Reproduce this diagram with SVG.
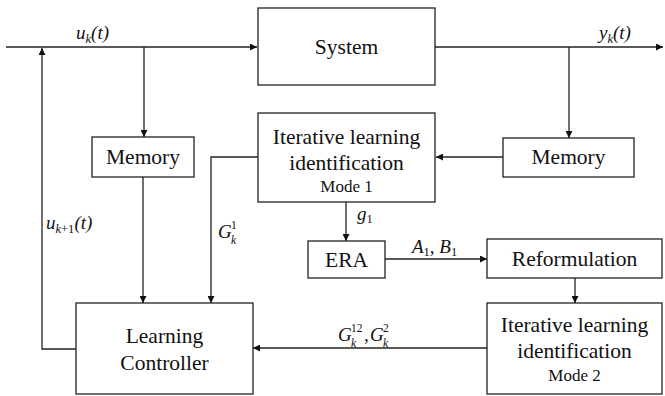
<svg xmlns="http://www.w3.org/2000/svg" width="665" height="396" viewBox="0 0 665 396">
<defs>
<marker id="ah" viewBox="0 0 10 10" refX="10" refY="5" markerWidth="8" markerHeight="7" markerUnits="userSpaceOnUse" orient="auto">
<path d="M0,0 L10,5 L0,10 z" fill="#111"/>
</marker>
<style>
.box{fill:#fff;stroke:#222;stroke-width:1.3}
text{font-family:'Liberation Serif','Times New Roman','DejaVu Serif',serif;fill:#111}
.t{font-size:21.5px;text-anchor:middle}
.s{font-size:17px;text-anchor:middle}
.m{font-size:19px;font-style:italic}
.sub{font-size:12.5px}
.ss{font-size:11.5px}
.up{font-style:normal}
.c{fill:none;stroke:#222;stroke-width:1.3}
</style>
</defs>
<g id="connectors">
<path class="c" d="M6,47 H257" marker-end="url(#ah)"/>
<path class="c" d="M435,47 H663" marker-end="url(#ah)"/>
<path class="c" d="M144,47 V137" marker-end="url(#ah)"/>
<path class="c" d="M569,47 V138" marker-end="url(#ah)"/>
<path class="c" d="M503,157 H436" marker-end="url(#ah)"/>
<path class="c" d="M143,177 V303" marker-end="url(#ah)"/>
<path class="c" d="M258,157 H211 V303" marker-end="url(#ah)"/>
<path class="c" d="M346,202 V241" marker-end="url(#ah)"/>
<path class="c" d="M385,259 H487" marker-end="url(#ah)"/>
<path class="c" d="M575,278 V303" marker-end="url(#ah)"/>
<path class="c" d="M487,348 H253" marker-end="url(#ah)"/>
<path class="c" d="M76,349 H42 V48" marker-end="url(#ah)"/>
</g>
<g id="labels">
<text class="m" x="76" y="39">u<tspan class="sub" dy="4">k</tspan><tspan dy="-4">(t)</tspan></text>
<text class="m" x="599" y="39">y<tspan class="sub" dy="4">k</tspan><tspan dy="-4">(t)</tspan></text>
<text class="m" x="46" y="229">u<tspan class="sub" dy="4">k<tspan class="up">+1</tspan></tspan><tspan dy="-4">(t)</tspan></text>
<text class="m" x="218" y="238">G</text>
<text class="m ss" x="231" y="244">k</text>
<text class="m ss up" x="231" y="229">1</text>
<text class="m" x="357" y="220">g<tspan class="sub up" dy="3">1</tspan></text>
<text class="m" x="412" y="253">A<tspan class="sub up" dy="3">1</tspan><tspan class="up" dy="-3">, </tspan>B<tspan class="sub up" dy="3">1</tspan></text>
<text class="m" x="338" y="341">G</text>
<text class="m ss" x="351" y="347">k</text>
<text class="m ss up" x="351" y="332">12</text>
<text class="m up" x="364" y="341">,</text>
<text class="m" x="370" y="341">G</text>
<text class="m ss" x="383" y="347">k</text>
<text class="m ss up" x="383" y="332">2</text>
</g>
<g id="system">
<rect class="box" x="258" y="8" width="177" height="77"/>
<text class="t" x="346.5" y="54">System</text>
</g>
<g id="memory1">
<rect class="box" x="92" y="137" width="102" height="40"/>
<text class="t" x="143" y="164">Memory</text>
</g>
<g id="memory2">
<rect class="box" x="503" y="138" width="131" height="39"/>
<text class="t" x="568.5" y="164">Memory</text>
</g>
<g id="ili1">
<rect class="box" x="258" y="113" width="177" height="89"/>
<text class="t" x="346.5" y="144">Iterative learning</text>
<text class="t" x="346.5" y="170">identification</text>
<text class="s" x="346.5" y="192">Mode 1</text>
</g>
<g id="era">
<rect class="box" x="308" y="241" width="77" height="37"/>
<text class="t" x="346.5" y="267">ERA</text>
</g>
<g id="reformulation">
<rect class="box" x="487" y="239" width="175" height="39"/>
<text class="t" x="574.5" y="266">Reformulation</text>
</g>
<g id="ili2">
<rect class="box" x="487" y="303" width="175" height="91"/>
<text class="t" x="574.5" y="332">Iterative learning</text>
<text class="t" x="574.5" y="358">identification</text>
<text class="s" x="574.5" y="381">Mode 2</text>
</g>
<g id="controller">
<rect class="box" x="76" y="303" width="177" height="91"/>
<text class="t" x="164.5" y="343">Learning</text>
<text class="t" x="164.5" y="370">Controller</text>
</g>
</svg>
